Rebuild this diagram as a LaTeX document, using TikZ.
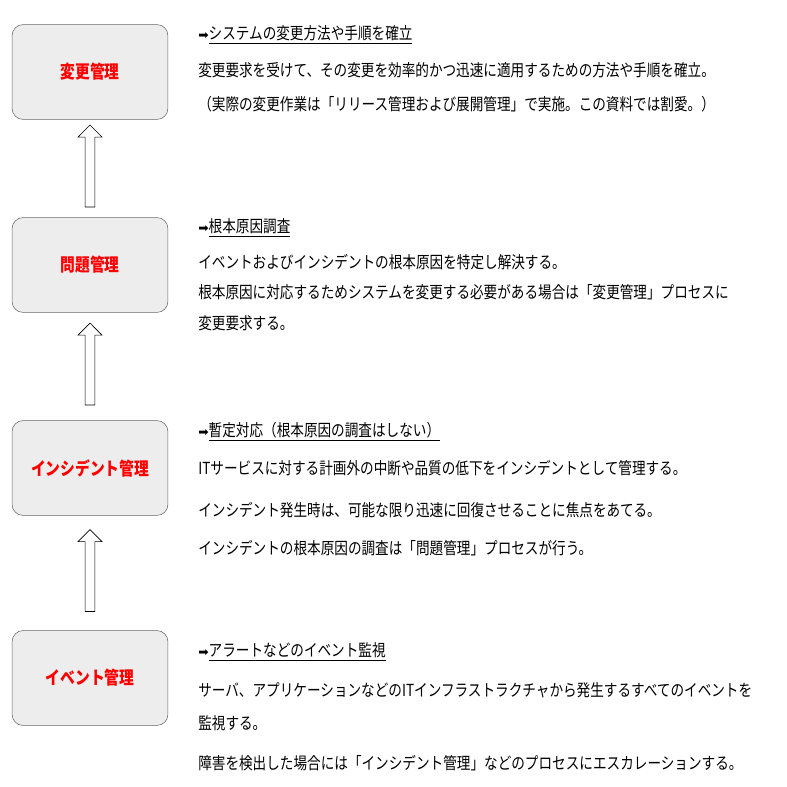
\documentclass[tikz,border=0pt]{standalone}
\usepackage{fontspec}
\newfontfamily\jp[FakeStretch=0.82]{Noto Sans CJK JP}
\newfontfamily\sym{DejaVu Sans}
\usetikzlibrary{shapes.arrows, calc}
\tikzstyle{procbox} = [rectangle, rounded corners=8pt, minimum width=3.96cm, minimum
height=2.41cm, text centered, draw=black!60, fill=black!7, text=red, font=\jp\fontsize{13pt}{15pt}\selectfont\bfseries]
\tikzstyle{uparrow} = [single arrow, draw=black, fill=white, shape border rotate=90,
minimum height=2.08cm, minimum width=0.61cm, inner sep=0.081cm, single arrow head extend=0.127cm]
\tikzstyle{desc} = [anchor=west, inner sep=0pt, font=\jp\fontsize{12pt}{14pt}\selectfont]
\newcommand{\head}[1]{{\sym\small ➡}\underline{#1}}

\begin{document}
\begin{tikzpicture}[x=0.0254cm, y=-0.0254cm]
  \useasboundingbox (0,0) rectangle (787,787);

  \node (chg) [procbox] at (90,72) {変更管理};
  \node (prb) [procbox] at (90,265) {問題管理};
  \node (inc) [procbox] at (90,468) {インシデント管理};
  \node (evt) [procbox] at (90,678) {イベント管理};

  \node (a1) [uparrow] at ($(prb.north)!0.5!(chg.south)$) {};
  \node (a2) [uparrow] at ($(inc.north)!0.5!(prb.south)$) {};
  \node (a3) [uparrow] at ($(evt.north)!0.5!(inc.south)$) {};

  % change
  \node (c0) [desc] at (198,35) {\head{システムの変更方法や手順を確立}};
  \node (c1) [desc] at (198,70) {変更要求を受けて、その変更を効率的かつ迅速に適用するための方法や手順を確立。};
  \node (c2) [desc] at (198,104) {（実際の変更作業は「リリース管理および展開管理」で実施。この資料では割愛。）};

  % problem
  \node (p0) [desc] at (198,228) {\head{根本原因調査}};
  \node (p1) [desc] at (198,262) {イベントおよびインシデントの根本原因を特定し解決する。};
  \node (p2) [desc] at (198,292) {根本原因に対応するためシステムを変更する必要がある場合は「変更管理」プロセスに};
  \node (p3) [desc] at (198,323) {変更要求する。};

  % incident
  \node (i0) [desc] at (198,432) {\head{暫定対応（根本原因の調査はしない）}};
  \node (i1) [desc] at (198,468) {ITサービスに対する計画外の中断や品質の低下をインシデントとして管理する。};
  \node (i2) [desc] at (198,510) {インシデント発生時は、可能な限り迅速に回復させることに焦点をあてる。};
  \node (i3) [desc] at (198,548) {インシデントの根本原因の調査は「問題管理」プロセスが行う。};

  % event
  \node (e0) [desc] at (198,652) {\head{アラートなどのイベント監視}};
  \node (e1) [desc] at (198,690) {サーバ、アプリケーションなどのITインフラストラクチャから発生するすべてのイベントを};
  \node (e2) [desc] at (198,723) {監視する。};
  \node (e3) [desc] at (198,763) {障害を検出した場合には「インシデント管理」などのプロセスにエスカレーションする。};

\end{tikzpicture}
\end{document}
